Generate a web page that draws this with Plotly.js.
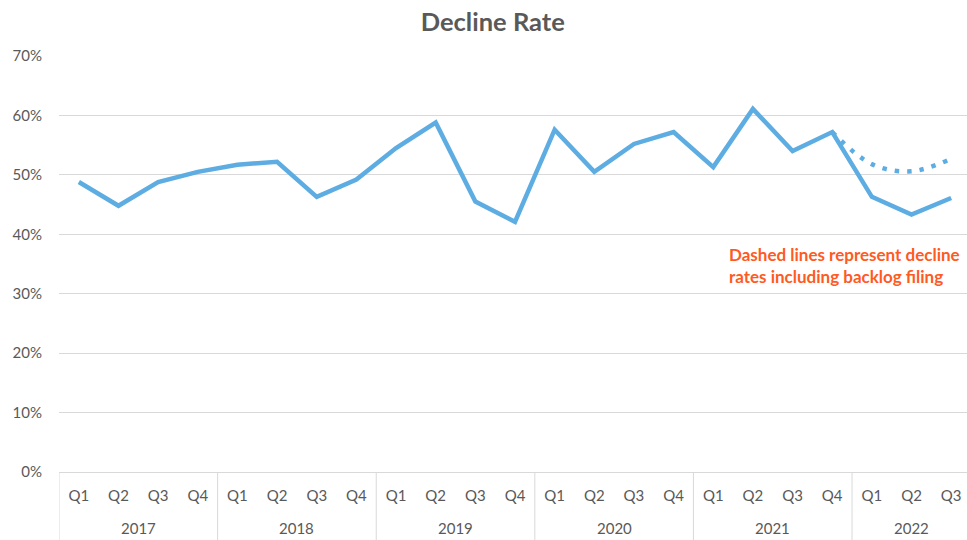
<!DOCTYPE html>
<html>
<head>
<meta charset="utf-8">
<script src="https://cdn.plot.ly/plotly-3.0.1.min.js"></script>
<style>html,body{margin:0;padding:0;overflow:hidden;background:#fff;}</style>
</head>
<body>
<div id="chart" style="width:972px;height:540px;"></div>
<script>
const years = ["2017","2017","2017","2017","2018","2018","2018","2018","2019","2019","2019","2019","2020","2020","2020","2020","2021","2021","2021","2021","2022","2022","2022"];
const quarters = ["Q1","Q2","Q3","Q4","Q1","Q2","Q3","Q4","Q1","Q2","Q3","Q4","Q1","Q2","Q3","Q4","Q1","Q2","Q3","Q4","Q1","Q2","Q3"];
const declineRate = [0.488,0.448,0.488,0.505,0.517,0.522,0.463,0.492,0.545,0.588,0.455,0.421,0.576,0.505,0.552,0.572,0.513,0.611,0.540,0.572,0.463,0.433,0.461];
const backlogStart = 19; // index of 2021 Q4, where the backlog series begins
const backlogRate = [0.572,0.518,0.506,0.527];
const noteText = "Dashed lines represent decline<br>rates including backlog filing";

const lineColor = "rgb(93,173,226)";
const grey = "#595959";
const divColor = "#d9d9d9";
const font = "Lato, 'Open Sans', sans-serif";

const idx = quarters.map((_, i) => i);
const backlogIdx = backlogRate.map((_, i) => backlogStart + i);

const traces = [
  {x:idx, y:declineRate, type:"scatter", mode:"lines",
   line:{color:lineColor, width:4.5}, hoverinfo:"skip"},
  {x:backlogIdx, y:backlogRate, type:"scatter", mode:"lines",
   line:{color:lineColor, width:4.5, dash:"4.5px,8px", shape:"spline"}, hoverinfo:"skip"}
];

// year groups
const groups = [];
years.forEach((y, i) => {
  const g = groups[groups.length - 1];
  if (g && g.year === y) g.end = i; else groups.push({year:y, start:i, end:i});
});

const plotH = 540 - 56 - 68;
const yearY = -(528 - 472) / plotH;
const bottomY = -(540 - 472) / plotH;

const annotations = groups.map(g => ({
  text:g.year, xref:"x", x:(g.start + g.end) / 2, yref:"paper", y:yearY,
  xanchor:"center", yanchor:"middle", showarrow:false,
  font:{family:font, size:15, color:grey}
}));
annotations.push({text:"<b>"+noteText+"</b>", xref:"paper", x:0.733, yref:"y", y:0.347,
  xanchor:"left", yanchor:"middle", align:"left", showarrow:false,
  font:{family:font, size:17, color:"#FF5A1F"}});

const shapes = groups.map(g => ({
  type:"line", xref:"x", x0:g.start - 0.5, x1:g.start - 0.5, yref:"paper", y0:0, y1:bottomY,
  line:{color:divColor, width:1}
}));

const layout = {
  width:972, height:540,
  margin:{l:59, r:1, t:56, b:68},
  paper_bgcolor:"#fff", plot_bgcolor:"#fff",
  showlegend:false,
  font:{family:font, color:grey, size:15},
  title:{text:"<b>Decline Rate</b>", font:{family:font, size:25.5, color:grey}, x:0.507, xref:"container", y:0.96, yref:"container", yanchor:"middle"},
  xaxis:{range:[-0.5, quarters.length - 0.5], tickmode:"array", tickvals:idx, ticktext:quarters,
    showgrid:false, showline:true, linecolor:divColor, linewidth:1, zeroline:false,
    ticks:"", ticklabelstandoff:10, tickfont:{family:font, size:15, color:grey}},
  yaxis:{range:[0,0.7], dtick:0.1, tickformat:".0%", showgrid:true, gridcolor:divColor, gridwidth:1,
    zeroline:false, showline:false, ticks:"", ticklabelstandoff:16, tickfont:{family:font, size:15, color:grey}},
  annotations:annotations,
  shapes:shapes
};

Plotly.newPlot("chart", traces, layout, {displayModeBar:false, staticPlot:true});
</script>
</body>
</html>
